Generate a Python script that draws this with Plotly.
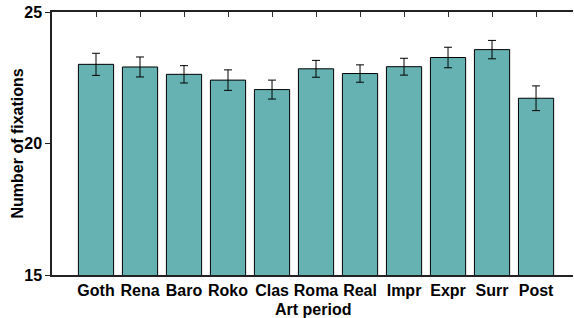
import plotly.graph_objects as go

categories = ["Goth", "Rena", "Baro", "Roko", "Clas", "Roma", "Real", "Impr", "Expr", "Surr", "Post"]
means = [23.01, 22.91, 22.63, 22.41, 22.05, 22.84, 22.66, 22.92, 23.27, 23.57, 21.72]
errors = [0.42, 0.38, 0.33, 0.39, 0.36, 0.32, 0.33, 0.32, 0.39, 0.35, 0.47]
y_ticks = [15, 20, 25]

xs = list(range(len(categories)))
FONT = "Liberation Sans, Arial, sans-serif"

W, H = 574, 318
ML, MR, MT, MB = 52, 1, 12, 43
PW, PH = W - ML - MR, H - MT - MB

fig = go.Figure()
fig.add_trace(go.Bar(
    x=xs, y=means, width=0.8,
    marker=dict(color="#66b2b2", line=dict(color="black", width=1)),
    error_y=dict(type="data", array=errors, color="black", thickness=1, width=4),
    showlegend=False, hoverinfo="skip",
))
fig.add_trace(go.Scatter(x=[xs[0]], y=[means[0]], xaxis="x2", mode="markers",
                         marker=dict(opacity=0), showlegend=False, hoverinfo="skip"))

xr = [-1, 10.84]
fig.update_layout(
    width=W, height=H,
    margin=dict(l=ML, r=MR, t=MT, b=MB, autoexpand=False),
    plot_bgcolor="white", paper_bgcolor="white",
    font=dict(family=FONT, color="black"),
    xaxis=dict(
        range=xr, tickvals=xs, ticktext=categories, automargin=False,
        showline=True, linecolor="#222", linewidth=1.5, mirror=False,
        ticks="", showgrid=False, zeroline=False,
        tickfont=dict(size=16, weight="bold", family=FONT),
    ),
    xaxis2=dict(
        range=xr, tickvals=xs, overlaying="x", side="top", automargin=False,
        showline=True, linecolor="#222", linewidth=1.5,
        ticks="inside", ticklen=5, tickcolor="#333", tickwidth=1,
        showticklabels=False, showgrid=False, zeroline=False,
    ),
    yaxis=dict(
        range=[15, 25], tickvals=y_ticks, automargin=False,
        showline=True, linecolor="#222", linewidth=1.5,
        ticks="outside", ticklen=5, tickcolor="#222",
        showgrid=False, zeroline=False,
        tickfont=dict(size=16, weight="bold", family=FONT),
    ),
    annotations=[
        dict(text="Number of fixations", textangle=-90, showarrow=False,
             xref="paper", yref="paper", x=-(ML - 17) / PW, y=0.5,
             xanchor="center", yanchor="middle",
             font=dict(size=16, weight="bold", family=FONT)),
        dict(text="Art period", showarrow=False,
             xref="paper", yref="paper", x=0.5, y=-34 / PH,
             xanchor="center", yanchor="middle",
             font=dict(size=16, weight="bold", family=FONT)),
    ],
)
fig.write_html("out.html", config={"displayModeBar": False},
               post_script="document.body.style.margin='0';document.body.style.padding='0';")
